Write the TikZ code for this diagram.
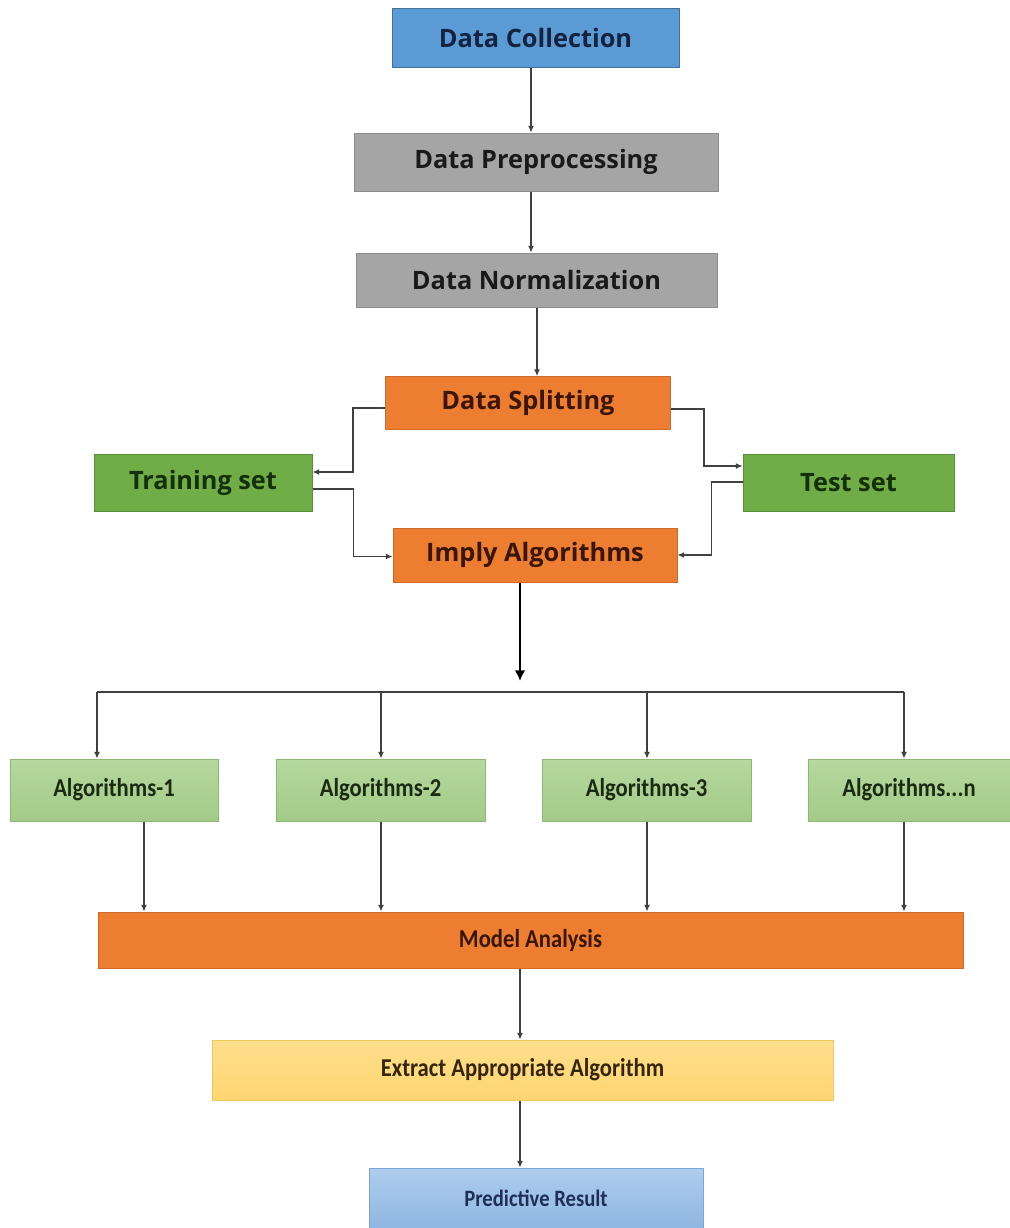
\documentclass[tikz,border=0pt]{standalone}
\usepackage{fontspec}
\newfontfamily\topfont{Open Sans}
\newfontfamily\lowfont{Carlito}[FakeStretch=0.88]
\usetikzlibrary{arrows.meta,calc}
\definecolor{cblue}{HTML}{5B9BD5}
\definecolor{cblueb}{HTML}{41719C}
\definecolor{cgray}{HTML}{A5A5A5}
\definecolor{cgrayb}{HTML}{8C8C8C}
\definecolor{corange}{HTML}{ED7D31}
\definecolor{corangeb}{HTML}{D0692A}
\definecolor{cgreen}{HTML}{70AD47}
\definecolor{cgreenb}{HTML}{5A9038}
\definecolor{clgtop}{HTML}{B5D89E}
\definecolor{clgbot}{HTML}{A3CB88}
\definecolor{clgb}{HTML}{8DB872}
\definecolor{cytop}{HTML}{FFDE8C}
\definecolor{cybot}{HTML}{FFD571}
\definecolor{cyb}{HTML}{F2C65E}
\definecolor{cbtop}{HTML}{AECDEE}
\definecolor{cbbot}{HTML}{8FB6E2}
\definecolor{cbb}{HTML}{7FA6D2}
\definecolor{cline}{HTML}{404040}
\definecolor{tnavy}{HTML}{15233F}
\definecolor{tdark}{HTML}{1A1A1A}
\definecolor{tbrown}{HTML}{3A1606}
\definecolor{tgreen}{HTML}{13300A}
\definecolor{tlg}{HTML}{1B2A12}
\definecolor{tyel}{HTML}{33260C}
\definecolor{tpred}{HTML}{1F2F55}
\tikzset{
  box/.style={rectangle, draw, line width=0.75pt, inner sep=0pt, anchor=center},
  topbox/.style={box, font=\topfont\bfseries\fontsize{19}{22}\selectfont},
  lowbox/.style={box, font=\lowfont\bfseries\fontsize{19.3}{22}\selectfont},
  blueb/.style={topbox, fill=cblue, draw=cblueb, text=tnavy},
  grayb/.style={topbox, fill=cgray, draw=cgrayb, text=tdark},
  orangeb/.style={topbox, fill=corange, draw=corangeb, text=tbrown},
  greenb/.style={topbox, fill=cgreen, draw=cgreenb, text=tgreen},
  algb/.style={lowbox, top color=clgtop, bottom color=clgbot, draw=clgb, text=tlg},
  arr/.style={draw=cline, line width=0.9pt, -{Latex[length=5pt,width=4.5pt]}},
  plain/.style={draw=cline, line width=0.9pt},
  thickarr/.style={draw=black, line width=2.2pt, -{Latex[length=8pt,width=8pt]}}
}
\begin{document}
\begin{tikzpicture}[x=0.75pt,y=-0.75pt]
\useasboundingbox (0,0) rectangle (1010,1228);
% nodes
\node[blueb, minimum width=287*0.75pt, minimum height=59*0.75pt] (dc) at (535.5,37.5) {Data Collection};
\node[grayb, minimum width=364*0.75pt, minimum height=58*0.75pt] (pp) at (536,162) {Data Preprocessing};
\node[grayb, minimum width=361*0.75pt, minimum height=54*0.75pt] (nm) at (536.5,280) {Data Normalization};
\node[orangeb, minimum width=285*0.75pt, minimum height=53*0.75pt] (sp) at (528,403) {Data Splitting};
\node[greenb, minimum width=218*0.75pt, minimum height=57*0.75pt] (tr) at (203,482.5) {Training set};
\node[greenb, minimum width=211*0.75pt, minimum height=57*0.75pt] (te) at (848.5,482.5) {Test set};
\node[orangeb, minimum width=284*0.75pt, minimum height=54*0.75pt] (im) at (535,555) {Imply Algorithms};
\node[algb, minimum width=208*0.75pt, minimum height=62*0.75pt] (a1) at (114,790) {Algorithms-1};
\node[algb, minimum width=209*0.75pt, minimum height=62*0.75pt] (a2) at (380.5,790) {Algorithms-2};
\node[algb, minimum width=209*0.75pt, minimum height=62*0.75pt] (a3) at (646.5,790) {Algorithms-3};
\node[algb, minimum width=202*0.75pt, minimum height=62*0.75pt] (an) at (909,790) {Algorithms...n};
\node[lowbox, fill=corange, draw=corangeb, text=tbrown, minimum width=865*0.75pt, minimum height=56*0.75pt] (ma) at (530.5,940) {Model Analysis};
\node[lowbox, top color=cytop, bottom color=cybot, draw=cyb, text=tyel, minimum width=621*0.75pt, minimum height=60*0.75pt] (ex) at (522.5,1070) {Extract Appropriate Algorithm};
\node[lowbox, top color=cbtop, bottom color=cbbot, draw=cbb, text=tpred, font=\lowfont\bfseries\fontsize{17.6}{20}\selectfont, minimum width=334*0.75pt, minimum height=60*0.75pt] (pr) at (536,1198) {Predictive Result};
% column coordinates
\coordinate (x531) at (531,0);
\coordinate (x537) at (537,0);
\coordinate (x520) at (520,0);
\coordinate (x144) at (144,0);
\coordinate (tk) at (520,681);
\coordinate (b1) at (97,692);
\coordinate (b2) at (381,692);
\coordinate (b3) at (647,692);
\coordinate (b4) at (904,692);
% connectors
\draw[arr] (dc.south -| x531) -- (pp.north -| x531);
\draw[arr] (pp.south -| x531) -- (nm.north -| x531);
\draw[arr] (nm.south -| x537) -- (sp.north -| x537);
\draw[arr] ($(sp.west)+(0,5)$) -- ($(sp.west)+(-32,5)$) |- ($(tr.east)+(0,-10.5)$);
\draw[arr] ($(sp.east)+(0,6)$) -- ($(sp.east)+(33,6)$) |- ($(te.west)+(0,-16.5)$);
\draw[arr] ($(tr.east)+(0,6.5)$) -- ($(tr.east)+(41,6.5)$) |- ($(im.west)+(0,1.5)$);
\draw[arr] ($(te.west)+(0,-0.5)$) -- ($(te.west)+(-31,-0.5)$) |- (im.east);
\draw[thickarr] (im.south -| tk) -- (tk);
\draw[plain] (b1) -- (b4);
\draw[arr] (b1) -- (a1.north -| b1);
\draw[arr] (b2) -- (a2.north -| b2);
\draw[arr] (b3) -- (a3.north -| b3);
\draw[arr] (b4) -- (an.north -| b4);
\draw[arr] (a1.south -| x144) -- (ma.north -| x144);
\draw[arr] (a2.south -| b2) -- (ma.north -| b2);
\draw[arr] (a3.south -| b3) -- (ma.north -| b3);
\draw[arr] (an.south -| b4) -- (ma.north -| b4);
\draw[arr] (ma.south -| x520) -- (ex.north -| x520);
\draw[arr] (ex.south -| x520) -- (pr.north -| x520);
\end{tikzpicture}
\end{document}
